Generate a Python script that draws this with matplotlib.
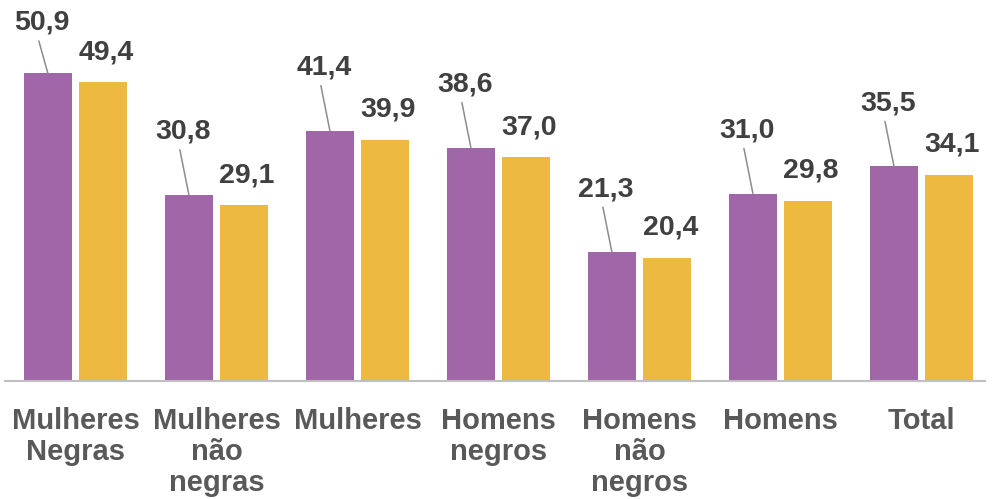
import matplotlib
matplotlib.use("Agg")
import matplotlib.pyplot as plt
import numpy as np

plt.rcParams["font.family"] = ["Liberation Sans", "DejaVu Sans"]

categories = ["Mulheres\nNegras", "Mulheres\nnão\nnegras", "Mulheres",
              "Homens\nnegros", "Homens\nnão\nnegros", "Homens", "Total"]
serie_roxa = [50.9, 30.8, 41.4, 38.6, 21.3, 31.0, 35.5]
serie_amarela = [49.4, 29.1, 39.9, 37.0, 20.4, 29.8, 34.1]

roxo = "#A066A8"
amarelo = "#EDB940"
cor_rotulo = "#404040"

fig = plt.figure(figsize=(9.92, 4.99), dpi=100)
ax = fig.add_axes([0.005, 0.2365, 0.988, 0.7635])

x = np.arange(len(categories))
w = 0.339
d = 0.196
ax.bar(x - d, serie_roxa, w, color=roxo, zorder=2)
ax.bar(x + d, serie_amarela, w, color=amarelo, zorder=2)

ax.set_xlim(-0.5, 6.45)
ax.set_ylim(0, 63)

for s in ["top", "right", "left"]:
    ax.spines[s].set_visible(False)
ax.spines["bottom"].set_color("#BFBFBF")
ax.spines["bottom"].set_linewidth(1.5)
ax.set_yticks([])
ax.set_xticks(x)
ax.set_xticklabels(categories, fontsize=21, fontweight="bold", color="#595959",
                   linespacing=1.12, va="top")
ax.tick_params(axis="x", length=0, pad=19)

fig.canvas.draw()
H = fig.bbox.height

def fmt(v):
    return f"{v:.1f}".replace(".", ",")

# rótulos da série roxa: deslocados para cima/esquerda com linha guia
for xi, v in zip(x, serie_roxa):
    top = ax.transData.transform((xi - d, v))[1]
    off = min(63, H - 23 - top)
    ax.annotate(fmt(v), xy=(xi - d, v), xytext=(-6, off), textcoords="offset pixels",
                ha="center", va="center", fontsize=20.5, fontweight="bold", color=cor_rotulo)
    ax.annotate("", xy=(xi - d, v), xytext=(-9, off - 18), textcoords="offset pixels",
                arrowprops=dict(arrowstyle="-", color="#8C8C8C", lw=1.1,
                                shrinkA=0, shrinkB=0))

for xi, v in zip(x, serie_amarela):
    ax.annotate(fmt(v), xy=(xi + d, v), xytext=(3, 30), textcoords="offset pixels",
                ha="center", va="center", fontsize=20.5, fontweight="bold", color=cor_rotulo)

fig.savefig("out.png", dpi=100, facecolor="white")
